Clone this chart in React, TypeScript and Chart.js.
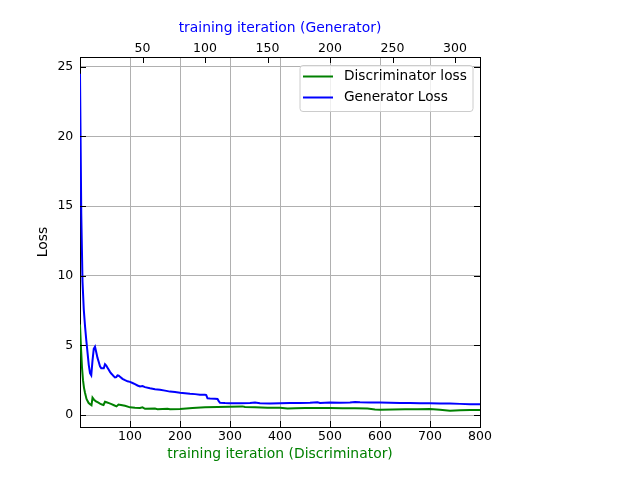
import React, { useEffect, useRef } from "react";
import { Chart, registerables } from "chart.js";

Chart.register(...registerables);

// Discriminator loss (x = discriminator iteration)
const discIter = [0, 2, 4, 6, 8, 10, 13, 17, 20, 23, 25, 28, 32, 36, 40, 44, 47, 50, 53, 58, 63, 68, 73, 77, 82, 90, 100, 110, 120, 125, 130, 150, 155, 175, 180, 200, 225, 250, 275, 300, 325, 330, 350, 375, 400, 415, 430, 450, 475, 500, 525, 550, 575, 590, 600, 625, 650, 675, 700, 720, 740, 760, 780, 800];
const discLoss = [6.5, 4.8, 3.4, 2.5, 1.95, 1.6, 1.15, 0.88, 0.78, 0.7, 1.25, 1.1, 0.98, 0.9, 0.82, 0.75, 0.72, 0.95, 0.92, 0.85, 0.78, 0.7, 0.62, 0.75, 0.72, 0.66, 0.55, 0.52, 0.5, 0.55, 0.45, 0.46, 0.42, 0.45, 0.42, 0.44, 0.5, 0.55, 0.57, 0.6, 0.62, 0.57, 0.56, 0.53, 0.52, 0.46, 0.48, 0.5, 0.51, 0.5, 0.49, 0.48, 0.46, 0.4, 0.38, 0.4, 0.42, 0.41, 0.43, 0.37, 0.3, 0.34, 0.36, 0.36];

// Generator loss (x = generator iteration)
const genIter = [0, 1, 2, 3, 4, 5, 6, 7, 8, 9, 10, 11, 12, 13, 14, 15, 16, 17, 19, 20, 21, 22, 23, 24, 25, 26, 27, 28, 29, 30, 31, 32, 34, 36, 38, 40, 42, 44, 46, 48, 50, 52, 56, 60, 64, 68, 72, 76, 80, 84, 88, 92, 96, 100, 101, 102, 104, 108, 110, 111, 112, 116, 120, 128, 136, 140, 144, 152, 160, 168, 176, 184, 190, 192, 200, 208, 216, 220, 224, 232, 240, 248, 256, 264, 272, 280, 288, 296, 304, 312, 320];
const genLoss = [24.5, 14.5, 9.6, 7.6, 6.4, 5.4, 4.5, 3.6, 3.0, 2.85, 3.9, 4.75, 4.9, 4.5, 4.1, 3.8, 3.5, 3.35, 3.35, 3.65, 3.55, 3.4, 3.25, 3.1, 2.98, 2.88, 2.78, 2.7, 2.72, 2.85, 2.82, 2.75, 2.6, 2.5, 2.42, 2.38, 2.3, 2.22, 2.12, 2.05, 2.08, 2.0, 1.92, 1.85, 1.82, 1.75, 1.68, 1.65, 1.6, 1.56, 1.52, 1.5, 1.46, 1.45, 1.43, 1.2, 1.18, 1.17, 1.15, 1.0, 0.88, 0.86, 0.85, 0.84, 0.86, 0.9, 0.85, 0.83, 0.85, 0.87, 0.86, 0.88, 0.92, 0.87, 0.89, 0.88, 0.9, 0.94, 0.91, 0.9, 0.89, 0.88, 0.87, 0.86, 0.85, 0.84, 0.83, 0.82, 0.8, 0.78, 0.78];

const bottomTicks = [100, 200, 300, 400, 500, 600, 700, 800];
const topTicks = [50, 100, 150, 200, 250, 300];
const yTicks = [0, 5, 10, 15, 20, 25];

const FONT = "DejaVu Sans";

const inwardTicks = {
  id: "inwardTicks",
  afterDraw(chart: any) {
    const { ctx, chartArea } = chart;
    const { left, right, top, bottom } = chartArea;
    const L = 6;
    ctx.save();
    ctx.strokeStyle = "#000";
    ctx.lineWidth = 1;
    ctx.beginPath();
    const xs = chart.scales.x;
    const xs2 = chart.scales.x2;
    const ys = chart.scales.y;
    bottomTicks.forEach((v) => {
      const p = Math.round(xs.getPixelForValue(v)) + 0.5;
      ctx.moveTo(p, bottom);
      ctx.lineTo(p, bottom - L);
    });
    topTicks.forEach((v) => {
      const p = Math.round(xs2.getPixelForValue(v)) + 0.5;
      ctx.moveTo(p, top);
      ctx.lineTo(p, top + L);
    });
    yTicks.forEach((v) => {
      const p = Math.round(ys.getPixelForValue(v)) + 0.5;
      ctx.moveTo(left, p);
      ctx.lineTo(left + L, p);
      ctx.moveTo(right, p);
      ctx.lineTo(right - L, p);
    });
    ctx.stroke();
    ctx.restore();
  },
};

const boxLegend = {
  id: "boxLegend",
  afterDraw(chart: any) {
    const { ctx, chartArea } = chart;
    const w = 173;
    const h = 46;
    const x0 = chartArea.right - 7 - w;
    const y0 = chartArea.top + 8.5;
    ctx.save();
    ctx.beginPath();
    const r = 3;
    ctx.moveTo(x0 + r, y0);
    ctx.lineTo(x0 + w - r, y0);
    ctx.quadraticCurveTo(x0 + w, y0, x0 + w, y0 + r);
    ctx.lineTo(x0 + w, y0 + h - r);
    ctx.quadraticCurveTo(x0 + w, y0 + h, x0 + w - r, y0 + h);
    ctx.lineTo(x0 + r, y0 + h);
    ctx.quadraticCurveTo(x0, y0 + h, x0, y0 + h - r);
    ctx.lineTo(x0, y0 + r);
    ctx.quadraticCurveTo(x0, y0, x0 + r, y0);
    ctx.closePath();
    ctx.fillStyle = "rgba(255,255,255,0.8)";
    ctx.fill();
    ctx.strokeStyle = "#cccccc";
    ctx.lineWidth = 1;
    ctx.stroke();
    const items = chart.data.datasets;
    items.forEach((ds: any, i: number) => {
      const cy = y0 + 11 + i * 21;
      ctx.beginPath();
      ctx.strokeStyle = ds.borderColor;
      ctx.lineWidth = 2;
      ctx.moveTo(x0 + 3, cy);
      ctx.lineTo(x0 + 33, cy);
      ctx.stroke();
      ctx.fillStyle = "#000";
      ctx.font = `13.7px "${FONT}"`;
      ctx.textBaseline = "middle";
      ctx.textAlign = "left";
      ctx.fillText(ds.label, x0 + 44, cy);
    });
    ctx.restore();
  },
};

export default function App() {
  const ref = useRef<HTMLCanvasElement | null>(null);
  useEffect(() => {
    if (!ref.current) return;
    const chart = new Chart(ref.current, {
      type: "line",
      data: {
        datasets: [
          {
            label: "Discriminator loss",
            data: discIter.map((x, i) => ({ x, y: discLoss[i] })),
            borderColor: "#008000",
            backgroundColor: "#008000",
            borderWidth: 2,
            pointRadius: 0,
            tension: 0,
            xAxisID: "x",
            yAxisID: "y",
            order: 1,
          },
          {
            label: "Generator Loss",
            data: genIter.map((x, i) => ({ x, y: genLoss[i] })),
            borderColor: "#0000ff",
            backgroundColor: "#0000ff",
            borderWidth: 2,
            pointRadius: 0,
            tension: 0,
            xAxisID: "x2",
            yAxisID: "y",
            order: 0,
          },
        ],
      },
      options: {
        animation: false,
        responsive: false,
        devicePixelRatio: 1,
        layout: { padding: 0 },
        plugins: { legend: { display: false }, tooltip: { enabled: false } },
        scales: {
          x: {
            type: "linear",
            position: "bottom",
            min: 0,
            max: 800,
            afterBuildTicks: (s: any) => {
              s.ticks = bottomTicks.map((v) => ({ value: v }));
            },
            afterFit: (s: any) => {
              s.height = 53;
            },
            ticks: { autoSkip: false, maxRotation: 0, padding: 2.5, color: "#000", font: { family: FONT, size: 12.5 } },
            grid: { color: "#b0b0b0", lineWidth: 1, drawTicks: false },
            border: { display: true, color: "#000", width: 1 },
            title: {
              display: true,
              text: "training iteration (Discriminator)",
              color: "#008000",
              font: { family: FONT, size: 13.9 },
              padding: { top: 0, bottom: 17 },
            },
          },
          x2: {
            type: "linear",
            position: "top",
            min: 0,
            max: 320,
            afterBuildTicks: (s: any) => {
              s.ticks = topTicks.map((v) => ({ value: v }));
            },
            afterFit: (s: any) => {
              s.height = 57;
            },
            ticks: { autoSkip: false, maxRotation: 0, padding: 1, color: "#000", font: { family: FONT, size: 12.5 } },
            grid: { display: false, drawTicks: false },
            border: { display: true, color: "#000", width: 1 },
            title: {
              display: true,
              text: "training iteration (Generator)",
              color: "#0000ff",
              font: { family: FONT, size: 13.9 },
              padding: { top: 20.5, bottom: 0 },
            },
          },
          y: {
            type: "linear",
            position: "left",
            min: -0.86,
            max: 25.7,
            afterBuildTicks: (s: any) => {
              s.ticks = yTicks.map((v) => ({ value: v }));
            },
            afterFit: (s: any) => {
              s.width = 80;
            },
            ticks: { autoSkip: false, padding: 6.7, color: "#000", font: { family: FONT, size: 12.5 } },
            grid: { color: "#b0b0b0", lineWidth: 1, drawTicks: false },
            border: { display: true, color: "#000", width: 1 },
            title: {
              display: true,
              text: "Loss",
              color: "#000",
              font: { family: FONT, size: 13.9 },
              padding: { top: 35, bottom: 0 },
            },
          },
          y2: {
            type: "linear",
            position: "right",
            min: -0.86,
            max: 25.7,
            afterFit: (s: any) => {
              s.width = 160;
            },
            ticks: { display: false },
            grid: { display: false, drawTicks: false },
            border: { display: true, color: "#000", width: 1 },
          },
        },
      } as any,
      plugins: [inwardTicks, boxLegend],
    });
    return () => chart.destroy();
  }, []);
  return (
    <div style={{ position: "absolute", left: 0, top: 0, width: 640, height: 480, background: "#fff" }}>
      <canvas ref={ref} width={640} height={480} style={{ display: "block" }} />
    </div>
  );
}
